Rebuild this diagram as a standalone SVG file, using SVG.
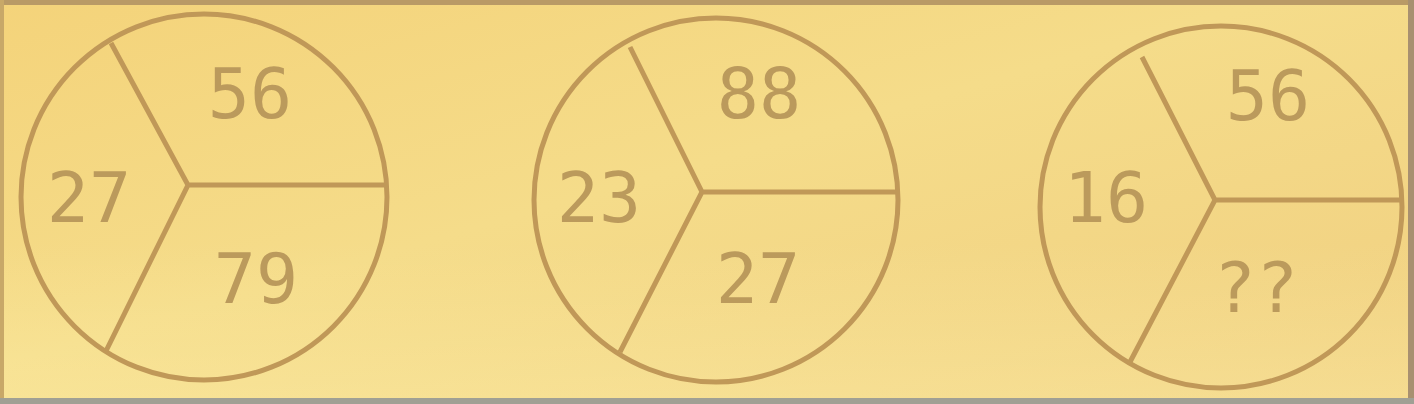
<svg xmlns="http://www.w3.org/2000/svg" width="1414" height="404" viewBox="0 0 1414 404">
<defs>
<linearGradient id="bg" x1="0" y1="0" x2="1" y2="1">
<stop offset="0" stop-color="#f4d37a"/>
<stop offset="0.45" stop-color="#f5dc8a"/>
<stop offset="1" stop-color="#f0cf80"/>
</linearGradient>
<linearGradient id="bg2" x1="0" y1="0" x2="0" y2="1">
<stop offset="0.6" stop-color="#fff4b0" stop-opacity="0"/>
<stop offset="1" stop-color="#fff4b0" stop-opacity="0.35"/>
</linearGradient>
</defs>
<style>
.ring{fill:none;stroke:#c09858;stroke-width:5}
.div{fill:none;stroke:#c09858;stroke-width:5;stroke-linejoin:miter}
.num{font-family:"DejaVu Sans Mono","Liberation Mono",monospace;font-size:70px;fill:#bb9a5c;text-anchor:middle}
</style>
<rect x="0" y="0" width="1414" height="404" fill="url(#bg)"/>
<rect x="0" y="0" width="1414" height="404" fill="url(#bg2)"/>
<rect x="0" y="0" width="1414" height="5" fill="#b99a66"/>
<rect x="0" y="0" width="4" height="400" fill="#c8a868"/>
<rect x="1408" y="0" width="6" height="404" fill="#a89070"/>
<rect x="0" y="398" width="1414" height="6" fill="#a0a094"/>
<g id="circle1">
<circle class="ring" cx="204" cy="197" r="183"/>
<path class="div" d="M111,43 L188,185 L106,351 M188,185 L386,185"/>
<text class="num" x="250" y="118">56</text>
<text class="num" x="89" y="222">27</text>
<text class="num" x="256" y="303">79</text>
</g>
<g id="circle2">
<circle class="ring" cx="716" cy="200" r="182"/>
<path class="div" d="M630,47 L702,192 L620,352 M702,192 L898,192"/>
<text class="num" x="759" y="118">88</text>
<text class="num" x="599" y="222">23</text>
<text class="num" x="758" y="303">27</text>
</g>
<g id="circle3">
<circle class="ring" cx="1221" cy="207" r="181"/>
<path class="div" d="M1142,57 L1215,200 L1130,362 M1215,200 L1401,200"/>
<text class="num" x="1268" y="120">56</text>
<text class="num" x="1106" y="222">16</text>
<text class="num" x="1256" y="312">??</text>
</g>
<g id="connectors"></g>
</svg>
